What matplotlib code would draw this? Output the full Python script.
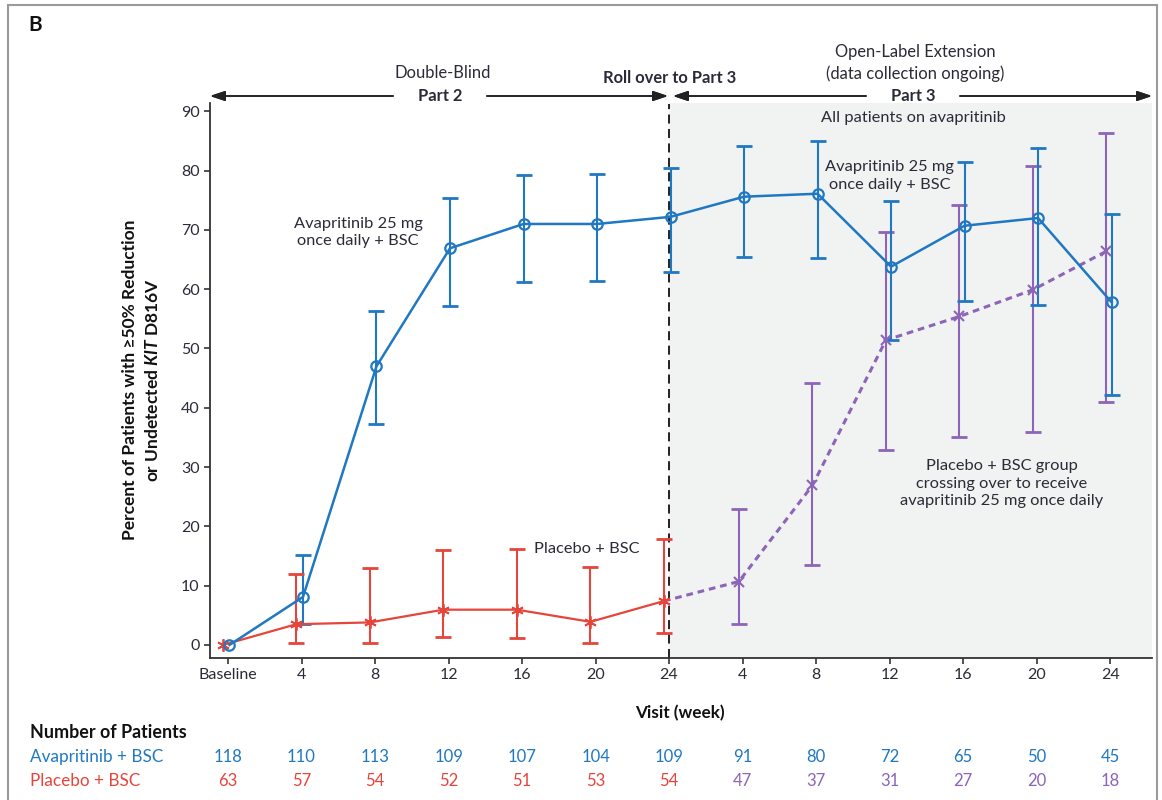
import numpy as np
import matplotlib
matplotlib.use("Agg")
import matplotlib.pyplot as plt
from matplotlib import transforms
from matplotlib.patches import Rectangle

plt.rcParams['font.family'] = ['Lato', 'DejaVu Sans']
plt.rcParams['mathtext.fontset'] = 'custom'
plt.rcParams['mathtext.rm'] = 'Lato:bold'
plt.rcParams['mathtext.it'] = 'Lato:italic:bold'
plt.rcParams['mathtext.bf'] = 'Lato:bold'

# ---- data -------------------------------------------------------------
visit_labels = ["Baseline", "4", "8", "12", "16", "20", "24",
                "4", "8", "12", "16", "20", "24"]

# Avapritinib 25 mg once daily + BSC (Part 2 then Part 3)
avap = [0, 8.1, 47.0, 66.9, 71.0, 71.0, 72.2, 75.6, 76.1, 63.8, 70.7, 72.0, 57.8]
avap_hi = [np.nan, 15.1, 56.3, 75.4, 79.3, 79.5, 80.5, 84.2, 85.0, 74.8, 81.4, 83.8, 72.6]
avap_lo = [np.nan, 3.5, 37.3, 57.2, 61.2, 61.4, 62.9, 65.5, 65.3, 51.5, 58.0, 57.4, 42.1]

# Placebo + BSC (Part 2)
placebo = [0, 3.5, 3.8, 5.95, 5.95, 3.9, 7.4]
placebo_hi = [np.nan, 12.0, 12.9, 16.0, 16.2, 13.1, 17.9]
placebo_lo = [np.nan, 0.4, 0.4, 1.3, 1.1, 0.4, 2.0]

# Placebo group crossing over to avapritinib (Part 3)
cross = [10.7, 26.9, 51.4, 55.4, 59.9, 66.4]
cross_hi = [23.0, 44.2, 69.6, 74.2, 80.7, 86.4]
cross_lo = [3.5, 13.5, 32.9, 35.1, 35.9, 40.9]

avap_n = [118, 110, 113, 109, 107, 104, 109, 91, 80, 72, 65, 50, 45]
placebo_n = [63, 57, 54, 52, 51, 53, 54, 47, 37, 31, 27, 20, 18]

# ---- style ------------------------------------------------------------
BLUE = "#1f78c1"
RED = "#e5453b"
PURPLE = "#8c64b8"
TXT = "#2b2b38"
SHADE = "#f1f2f2"

W, H = 1162, 800
fig = plt.figure(figsize=(W / 100, H / 100), dpi=100)


def fx(px):
    return px / W


def fy(py):
    return 1 - py / H


ax = fig.add_axes([fx(210), fy(658), fx(1152) - fx(210), fy(103) - fy(658)])

x = np.arange(len(visit_labels))
n2 = len(placebo)
xlim = (-0.245, 12.57)
ylim = (-2.2, 91.4)
ax.set_xlim(*xlim)
ax.set_ylim(*ylim)

# open-label extension shading and roll-over line
ax.axvspan(n2 - 1, xlim[1], color=SHADE, zorder=0, lw=0)
ax.plot([n2 - 1, n2 - 1], [ylim[0], 91.3], color="#111111", lw=1.3,
        dashes=(5, 3), zorder=1, clip_on=False)

# offsets so overlapping groups stay readable
off_b = 0.02
off_r = -0.07
off_p = -0.05

avap_a = np.array(avap)
xa = x + off_b
ax.errorbar(xa, avap_a,
            yerr=[avap_a - np.array(avap_lo), np.array(avap_hi) - avap_a],
            fmt='none', ecolor=BLUE, elinewidth=1.5, capsize=5.5, capthick=2.0, zorder=4)
ax.plot(xa, avap_a, color=BLUE, lw=1.8, marker='o', ms=7.5, mfc='none',
        mec=BLUE, mew=1.6, zorder=6)

pl = np.array(placebo)
xp = x[:n2] + off_r
ax.errorbar(xp, pl, yerr=[pl - np.array(placebo_lo), np.array(placebo_hi) - pl],
            fmt='none', ecolor=RED, elinewidth=1.5, capsize=5.5, capthick=2.0, zorder=4)
ax.plot(xp, pl, color=RED, lw=1.6, marker=(6, 2, 0), ms=9, mew=1.3, zorder=5)

cr = np.array(cross)
xc = x[n2:] + off_p
ax.errorbar(xc, cr, yerr=[cr - np.array(cross_lo), np.array(cross_hi) - cr],
            fmt='none', ecolor=PURPLE, elinewidth=1.5, capsize=5.5, capthick=2.0, zorder=3)
ax.plot(np.r_[xp[-1], xc], np.r_[pl[-1], cr], color=PURPLE, lw=2.2,
        dashes=(2.2, 1.6), zorder=3)
ax.plot(xc, cr, ls='none', marker='x', ms=7, mew=1.5, color=PURPLE, zorder=5)

# axes styling
for s in ("top", "right"):
    ax.spines[s].set_visible(False)
for s in ("left", "bottom"):
    ax.spines[s].set_color("#333333")
    ax.spines[s].set_linewidth(1.3)
ax.set_yticks(range(0, 91, 10))
ax.set_xticks(x)
ax.set_xticklabels(visit_labels)
ax.tick_params(axis="both", direction="out", length=4.5, width=1.2,
               color="#333333", labelsize=11.5, labelcolor=TXT, pad=3)

# in-plot annotations
tkw = dict(ha="center", va="center", color=TXT, fontsize=11.8, linespacing=1.3)
ax.text(1.77, 69.6, "Avapritinib 25 mg\nonce daily + BSC", **tkw)
ax.text(9.0, 79.1, "Avapritinib 25 mg\nonce daily + BSC", **tkw)
ax.text(4.88, 16.2, "Placebo + BSC", **tkw)
ax.text(10.53, 27.2, "Placebo + BSC group\ncrossing over to receive\navapritinib 25 mg once daily", **tkw)
ax.text(9.32, 88.9, "All patients on avapritinib", **tkw)

# study-phase header
akw = dict(arrowstyle="-|>,head_length=0.9,head_width=0.3", color="#222222", lw=1.2,
           shrinkA=0, shrinkB=0)
for x0, x1 in [(393, 210), (487, 668), (866, 673), (960, 1152)]:
    fig.add_artist(plt.annotate("", xy=(fx(x1), fy(96)), xytext=(fx(x0), fy(96)),
                                xycoords=fig.transFigure, textcoords=fig.transFigure,
                                arrowprops=akw))
hkw = dict(ha="center", va="center", color=TXT, fontsize=11.9)
fig.text(fx(443), fy(73), "Double-Blind", **hkw)
fig.text(fx(440), fy(96), "Part 2", fontweight="bold", **hkw)
fig.text(fx(670), fy(78), "Roll over to Part 3", fontweight="bold", **hkw)
fig.text(fx(915), fy(52), "Open-Label Extension", **hkw)
fig.text(fx(915), fy(74), "(data collection ongoing)", **hkw)
fig.text(fx(913), fy(96), "Part 3", fontweight="bold", **hkw)

fig.text(fx(28), fy(25), "B", fontweight="bold", fontsize=15, ha="left", va="center",
         color="#111111")

# y-axis label (two lines)
fig.text(fx(130), fy(380), "Percent of Patients with \u226550% Reduction", rotation=90,
         ha="center", va="center", fontweight="bold", fontsize=12.5, color="#111111")
fig.text(fx(153), fy(380), r"or Undetected $\mathit{KIT}$ D816V", rotation=90,
         ha="center", va="center", fontweight="bold", fontsize=12.5, color="#111111")

fig.text(fx(680), fy(713), "Visit (week)", ha="center", va="center",
         fontweight="bold", fontsize=12.3, color="#111111")

# number-at-risk table
fig.text(fx(30), fy(733), "Number of Patients", ha="left", va="center",
         fontweight="bold", fontsize=12.9, color="#111111")
fig.text(fx(30), fy(757), "Avapritinib + BSC", ha="left", va="center",
         fontsize=12.3, color=BLUE)
fig.text(fx(30), fy(781), "Placebo + BSC", ha="left", va="center",
         fontsize=12.3, color=RED)
bt = transforms.blended_transform_factory(ax.transData, fig.transFigure)
for i, (a, p) in enumerate(zip(avap_n, placebo_n)):
    fig.text(x[i], fy(757), str(a), transform=bt, ha="center", va="center",
             fontsize=12, color=BLUE)
    fig.text(x[i], fy(781), str(p), transform=bt, ha="center", va="center",
             fontsize=12, color=RED if i < n2 else PURPLE)

# outer panel frame
fig.add_artist(Rectangle((fx(8), -0.02), fx(1157) - fx(8), fy(5) + 0.02,
                         transform=fig.transFigure, fill=False,
                         edgecolor="#9a9a9a", lw=1.5))

fig.savefig("out.png", dpi=100)
